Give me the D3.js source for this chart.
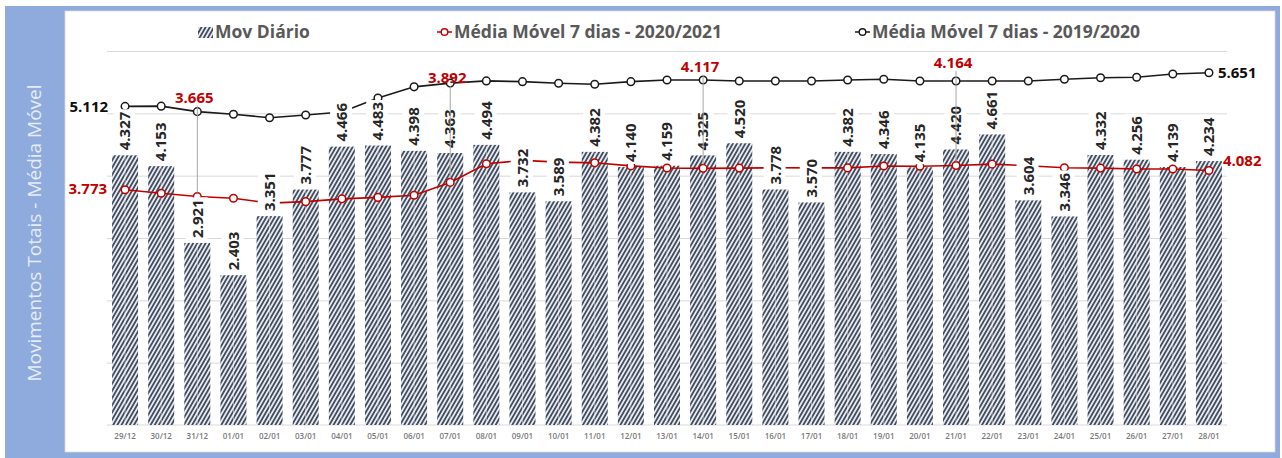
<!DOCTYPE html>
<html>
<head>
<meta charset="utf-8">
<script src="https://cdn.jsdelivr.net/npm/d3@7"></script>
<style>
  body { margin: 0; background: #fff; }
  text { font-family: "Open Sans", sans-serif; }
</style>
</head>
<body>
<div id="chart"></div>
<script>
// data
const dates = ["29/12", "30/12", "31/12", "01/01", "02/01", "03/01", "04/01", "05/01", "06/01", "07/01",
  "08/01", "09/01", "10/01", "11/01", "12/01", "13/01", "14/01", "15/01", "16/01", "17/01", "18/01",
  "19/01", "20/01", "21/01", "22/01", "23/01", "24/01", "25/01", "26/01", "27/01", "28/01"];

const movDiario = [4327, 4153, 2921, 2403, 3351, 3777, 4466, 4483, 4398, 4363, 4494, 3732, 3589, 4382,
  4140, 4159, 4325, 4520, 3778, 3570, 4382, 4346, 4135, 4420, 4661, 3604, 3346, 4332, 4256, 4139, 4234];

const media2021 = [3773, 3717, 3665, 3637, 3560, 3583, 3628, 3651, 3686, 3892, 4190, 4245, 4218, 4206,
  4157, 4123, 4117, 4121, 4128, 4125, 4125, 4154, 4151, 4164, 4185, 4160, 4128, 4121, 4108, 4108, 4082];

const media2020 = [5112, 5115, 5027, 4985, 4930, 4973, 5020, 5245, 5425, 5485, 5520, 5508, 5482, 5466,
  5508, 5535, 5535, 5519, 5519, 5519, 5535, 5546, 5519, 5519, 5519, 5519, 5546, 5572, 5578, 5631, 5651];

const legendLabels = ["Mov Diário", "Média Móvel 7 dias - 2020/2021", "Média Móvel 7 dias - 2019/2020"];
const yTicks = [1000, 2000, 3000, 4000, 5000, 6000];
const axisTitle = "Movimentos Totais - Média Móvel";

// red labels pulled up with a leader line (index, lift above the black point)
const callouts = [[2, 14], [9, 5], [16, 13], [23, 18]];

const W = 1282, H = 458;
const plot = { left: 107, right: 1227, top: 51, bottom: 425 };
const red = "#c00000", dark = "#1a1a1a";

const fmt = d3.formatLocale({ decimal: ",", thousands: ".", grouping: [3], currency: ["", ""] }).format(",d");

const x = d3.scaleBand().domain(dates).range([plot.left, plot.right]).paddingInner(0.28).paddingOuter(0.14);
const y = d3.scaleLinear().domain([0, 6000]).range([plot.bottom, plot.top]);
const cx = d => x(d) + x.bandwidth() / 2;

const svg = d3.select("#chart").append("svg").attr("width", W).attr("height", H);

// hatch pattern for bars
const defs = svg.append("defs");
const pat = defs.append("pattern").attr("id", "hatch")
  .attr("patternUnits", "userSpaceOnUse").attr("width", 3.6).attr("height", 10)
  .attr("patternTransform", "rotate(30)");
pat.append("rect").attr("width", 3.6).attr("height", 10).attr("fill", "#e8eaee");
pat.append("rect").attr("width", 1.8).attr("height", 10).attr("fill", "#434d60");

// frame
svg.append("rect").attr("x", 5).attr("y", 6).attr("width", 1275).attr("height", 452).attr("fill", "#8faadc");
svg.append("rect").attr("x", 65).attr("y", 11).attr("width", 1210).attr("height", 441)
  .attr("fill", "#fff").attr("stroke", "#d9d9d9").attr("stroke-width", 0.8);

svg.append("text")
  .attr("transform", "translate(41,233) rotate(-90)")
  .attr("text-anchor", "middle")
  .attr("font-size", 19)
  .attr("fill", "#e6ecf7")
  .text(axisTitle);

// gridlines
svg.append("g")
  .attr("transform", "translate(" + plot.left + ",0)")
  .call(d3.axisLeft(y).tickValues(yTicks).tickSize(-(plot.right - plot.left)).tickFormat(""))
  .call(g => g.select(".domain").remove())
  .call(g => g.selectAll(".tick line").attr("stroke", "#d9d9d9").attr("stroke-width", 1));

svg.append("line")
  .attr("x1", plot.left).attr("x2", plot.right)
  .attr("y1", y(0)).attr("y2", y(0))
  .attr("stroke", "#d9d9d9");

// x axis labels
svg.append("g")
  .attr("transform", "translate(0," + (plot.bottom + 5) + ")")
  .call(d3.axisBottom(x).tickSize(0))
  .call(g => g.select(".domain").remove())
  .call(g => g.selectAll("text")
    .attr("font-family", "'Open Sans', sans-serif")
    .attr("font-size", 8)
    .attr("font-weight", 600)
    .attr("fill", "#7a7a7a"));

// bars
svg.append("g").selectAll("rect")
  .data(movDiario)
  .enter()
  .append("rect")
  .attr("x", (d, i) => x(dates[i]))
  .attr("y", d => y(d))
  .attr("width", x.bandwidth())
  .attr("height", d => y(0) - y(d))
  .attr("fill", "url(#hatch)");

svg.append("g").selectAll("line")
  .data(movDiario)
  .enter()
  .append("line")
  .attr("x1", (d, i) => cx(dates[i])).attr("x2", (d, i) => cx(dates[i]))
  .attr("y1", d => y(d) + 1).attr("y2", y(0))
  .attr("stroke", "rgba(255,255,255,0.45)").attr("stroke-width", 1);

// lines with markers
function drawSeries(values, color) {
  const line = d3.line().x((d, i) => cx(dates[i])).y(d => y(d));
  svg.append("path")
    .datum(values)
    .attr("d", line)
    .attr("fill", "none")
    .attr("stroke", color)
    .attr("stroke-width", 1.6);
  svg.append("g").selectAll("circle")
    .data(values)
    .enter()
    .append("circle")
    .attr("cx", (d, i) => cx(dates[i]))
    .attr("cy", d => y(d))
    .attr("r", 3.8)
    .attr("fill", "#fff")
    .attr("stroke", color)
    .attr("stroke-width", 1.5);
}
drawSeries(media2021, red);
drawSeries(media2020, dark);

// bar value labels with white background
const barLabels = svg.append("g").selectAll("g")
  .data(movDiario)
  .enter()
  .append("g")
  .attr("transform", (d, i) => "translate(" + cx(dates[i]) + "," + (y(d) - 5) + ") rotate(-90)");

barLabels.append("text")
  .attr("dy", "0.35em")
  .attr("font-size", 15)
  .attr("font-weight", 700)
  .attr("fill", "#262626")
  .text(d => fmt(d));

barLabels.each(function () {
  const g = d3.select(this);
  const b = g.select("text").node().getBBox();
  g.insert("rect", "text")
    .attr("x", b.x - 2).attr("y", b.y - 1)
    .attr("width", b.width + 4).attr("height", b.height + 2)
    .attr("fill", "#fff");
});

// red callouts with leader lines
callouts.forEach(([i, lift]) => {
  const xc = cx(dates[i]);
  const ly = y(media2020[i]) - lift;
  svg.append("line")
    .attr("x1", xc).attr("x2", xc)
    .attr("y1", ly + 8).attr("y2", y(media2021[i]) - 4)
    .attr("stroke", "#a6a6a6").attr("stroke-width", 1);
  svg.append("text")
    .attr("x", xc - 3).attr("y", ly)
    .attr("dy", "0.35em")
    .attr("text-anchor", "middle")
    .attr("font-size", 15).attr("font-weight", 700)
    .attr("fill", red)
    .text(fmt(media2021[i]));
});

// end labels
const last = dates.length - 1;
const endLabel = (tx, ty, anchor, color, v) => svg.append("text")
  .attr("x", tx).attr("y", ty).attr("dy", "0.35em")
  .attr("text-anchor", anchor)
  .attr("font-size", 15).attr("font-weight", 700)
  .attr("fill", color)
  .text(fmt(v));

endLabel(cx(dates[0]) - 18, y(media2021[0]) - 1, "end", red, media2021[0]);
endLabel(cx(dates[0]) - 17, y(media2020[0]), "end", "#0d0d0d", media2020[0]);
endLabel(cx(dates[last]) + 14, y(media2021[last]) - 10, "start", red, media2021[last]);
endLabel(cx(dates[last]) + 9, y(media2020[last]), "start", "#0d0d0d", media2020[last]);

// legend
const legend = svg.append("g").attr("font-size", 17.5).attr("font-weight", 700).attr("fill", "#595959");
const legX = [198, 437, 855];

legend.append("rect").attr("x", legX[0]).attr("y", 27).attr("width", 15).attr("height", 11).attr("fill", "url(#hatch)");
[[legX[1], red], [legX[2], dark]].forEach(([lx, c]) => {
  legend.append("line").attr("x1", lx).attr("x2", lx + 15).attr("y1", 32).attr("y2", 32)
    .attr("stroke", c).attr("stroke-width", 1.5);
  legend.append("circle").attr("cx", lx + 7.5).attr("cy", 32).attr("r", 3.3)
    .attr("fill", "#fff").attr("stroke", c).attr("stroke-width", 1.4);
});
legendLabels.forEach((t, i) => {
  legend.append("text").attr("x", legX[i] + 17).attr("y", 38).text(t);
});
</script>
</body>
</html>
